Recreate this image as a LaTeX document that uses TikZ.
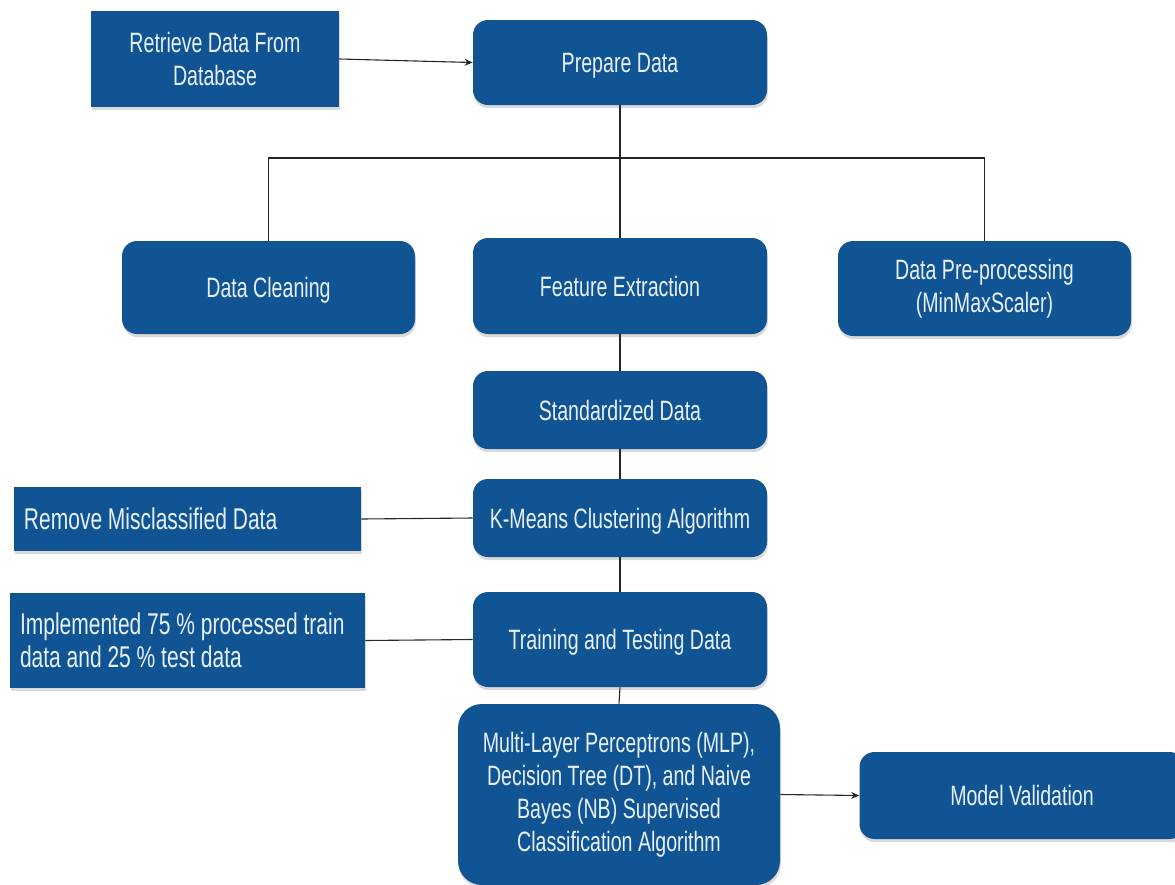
\documentclass[tikz,border=0pt]{standalone}
\usepackage{fontspec}
\setmainfont{Liberation Sans}[FakeStretch=0.7]
\usetikzlibrary{shadows,arrows.meta}
\definecolor{boxblue}{RGB}{17,84,148}
\definecolor{boxtext}{RGB}{232,241,250}
\tikzset{
  base/.style={fill=boxblue, text=boxtext, align=center, inner sep=2pt,
    font=\fontsize{14}{16.5}\selectfont,
    drop shadow={opacity=0.3, shadow xshift=0.4pt, shadow yshift=-1.6pt}},
  oneline/.style={text depth=0pt},
  sqbox/.style={base, rectangle},
  rbox/.style={base, rectangle, rounded corners=7.5pt},
  leftbox/.style={base, rectangle, align=flush left, inner xsep=5pt,
    font=\fontsize{15}{16.5}\selectfont},
  conn/.style={draw=black!85, line width=0.55pt},
  arr/.style={conn, -{Stealth[length=4pt,width=3.5pt]}}
}
\begin{document}
\begin{tikzpicture}[x=0.5pt,y=-0.5pt]
\useasboundingbox (0,0) rectangle (1175,885);
\node[sqbox, minimum width=124pt, minimum height=48pt] (retr) at (215,59) {Retrieve Data From\\Database};
\node[rbox, oneline, minimum width=147pt, minimum height=42.5pt] (prep) at (620,62.5) {Prepare Data};
\node[rbox, oneline, minimum width=146.5pt, minimum height=46.5pt] (clean) at (268.5,287.5) {Data Cleaning};
\node[rbox, oneline, minimum width=147pt, minimum height=48pt] (feat) at (620,286) {Feature Extraction};
\node[rbox, minimum width=146.5pt, minimum height=47.5pt] (prepro) at (984.5,288.5) {Data Pre-processing\\(MinMaxScaler)};
\node[rbox, oneline, minimum width=147pt, minimum height=39pt] (std) at (620,410) {Standardized Data};
\node[rbox, oneline, minimum width=147pt, minimum height=39pt] (km) at (620,518) {K-Means Clustering Algorithm};
\node[leftbox, oneline, text width=163.5pt, minimum height=32pt] (remove) at (187.5,519) {Remove Misclassified Data};
\node[rbox, oneline, minimum width=147pt, minimum height=47.5pt] (train) at (620,639.5) {Training and Testing Data};
\node[leftbox, text width=167.5pt, minimum height=47.5pt] (impl) at (187.5,640.5) {Implemented 75 \% processed train\\data and 25 \% test data};
\node[rbox, rounded corners=12pt, minimum width=161pt, minimum height=90.5pt] (mlp) at (619,794.5) {Multi-Layer Perceptrons (MLP),\\Decision Tree (DT), and Naive\\Bayes (NB) Supervised\\Classification Algorithm};
\node[rbox, oneline, minimum width=162.5pt, minimum height=43.5pt] (mv) at (1022,795.5) {Model Validation};
\coordinate (split) at (620,158);

\draw[arr] (retr.east) -- (prep.west);
\draw[conn] (prep.south) -- (feat.north);
\draw[conn] (clean.north) |- (split) -| (prepro.north);
\draw[conn] (feat.south) -- (std.north);
\draw[conn] (std.south) -- (km.north);
\draw[conn] (km.south) -- (train.north);
\draw[conn] (train.south) -- (mlp.north);
\draw[conn] (remove.east) -- (km.west);
\draw[conn] (impl.east) -- (train.west);
\draw[arr] (mlp.east) -- (mv.west);
\end{tikzpicture}
\end{document}
